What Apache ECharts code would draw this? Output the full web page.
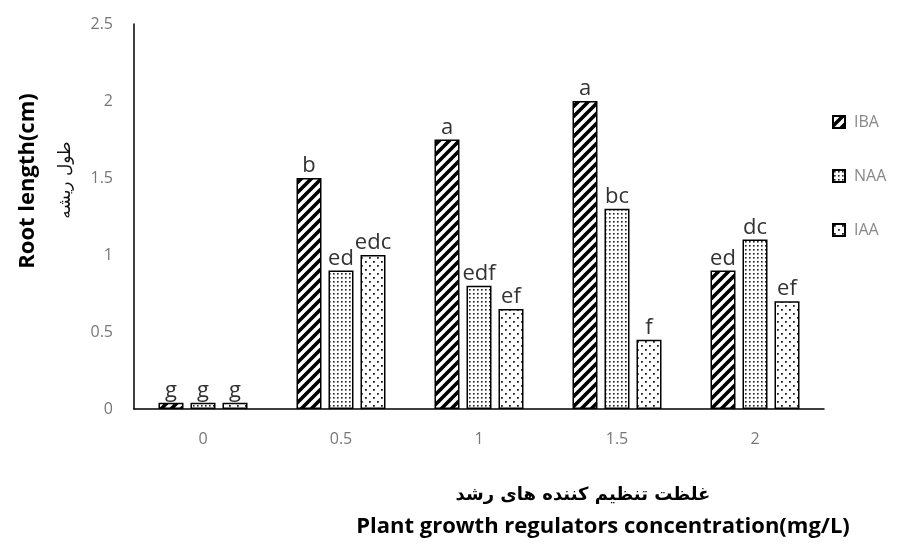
<!DOCTYPE html>
<html>
<head>
<meta charset="utf-8">
<script src="https://cdn.jsdelivr.net/npm/echarts@6/dist/echarts.min.js"></script>
<style>
  html, body { margin: 0; padding: 0; background: #fff; }
  #chart { width: 898px; height: 547px; }
</style>
</head>
<body>
<div id="chart"></div>
<script>
// Concentrations (mg/L)
const categories = ['0', '0.5', '1', '1.5', '2'];
// Mean root length (cm) per regulator
const ibaValues = [0.04, 1.5, 1.75, 2.0, 0.9];
const naaValues = [0.04, 0.9, 0.8, 1.3, 1.1];
const iaaValues = [0.04, 1.0, 0.65, 0.45, 0.7];
// Mean-separation letters
const ibaLetters = ['g', 'b', 'a', 'a', 'ed'];
const naaLetters = ['g', 'ed', 'edf', 'bc', 'dc'];
const iaaLetters = ['g', 'edc', 'ef', 'f', 'ef'];
const yTicks = [0, 0.5, 1, 1.5, 2, 2.5];

// Fill patterns
function stripePattern() {
  const s = 10;
  const c = document.createElement('canvas');
  c.width = s; c.height = s;
  const g = c.getContext('2d');
  g.fillStyle = '#fff'; g.fillRect(0, 0, s, s);
  g.strokeStyle = '#000'; g.lineWidth = 3.6;
  g.beginPath();
  g.moveTo(-2, s + 2); g.lineTo(s + 2, -2);
  g.moveTo(-2, 2); g.lineTo(2, -2);
  g.moveTo(s - 2, s + 2); g.lineTo(s + 2, s - 2);
  g.stroke();
  return c;
}
function densePattern() {
  const s = 4;
  const c = document.createElement('canvas');
  c.width = s; c.height = s;
  const g = c.getContext('2d');
  g.fillStyle = '#fff'; g.fillRect(0, 0, s, s);
  g.fillStyle = '#222';
  g.fillRect(1, 1, 1.6, 1.6);
  return c;
}
function sparsePattern() {
  const s = 8;
  const c = document.createElement('canvas');
  c.width = s; c.height = s;
  const g = c.getContext('2d');
  g.fillStyle = '#fff'; g.fillRect(0, 0, s, s);
  g.fillStyle = '#222';
  g.fillRect(1, 1, 1.8, 1.8);
  g.fillRect(5, 5, 1.8, 1.8);
  return c;
}

const chart = echarts.init(document.getElementById('chart'));

function barSeries(name, values, letters, pattern) {
  return {
    name: name,
    type: 'bar',
    barWidth: 25,
    barGap: '28%',
    data: values,
    itemStyle: {
      color: { image: pattern, repeat: 'repeat' },
      borderColor: '#000',
      borderWidth: 1.5
    },
    label: {
      show: true,
      position: 'top',
      distance: 1,
      formatter: p => letters[p.dataIndex],
      fontFamily: 'Open Sans, sans-serif',
      fontSize: 22,
      color: '#333'
    }
  };
}

chart.setOption({
  backgroundColor: '#fff',
  animation: false,
  grid: { left: 134, right: 74, top: 24, bottom: 138 },
  xAxis: {
    type: 'category',
    data: categories,
    axisLine: { lineStyle: { color: '#000', width: 1.5 } },
    axisTick: { show: false },
    axisLabel: {
      margin: 22,
      fontFamily: 'Open Sans, sans-serif',
      fontSize: 16,
      color: '#777'
    }
  },
  yAxis: {
    type: 'value',
    min: yTicks[0],
    max: yTicks[yTicks.length - 1],
    interval: 0.5,
    axisLine: { show: true, lineStyle: { color: '#000', width: 1.5 } },
    axisTick: { show: false },
    splitLine: { show: false },
    axisLabel: {
      margin: 21,
      fontFamily: 'Open Sans, sans-serif',
      fontSize: 16,
      color: '#777'
    }
  },
  legend: {
    orient: 'vertical',
    left: 827,
    top: 109,
    itemGap: 38,
    itemWidth: 12,
    itemHeight: 12,
    icon: 'rect',
    textStyle: {
      fontFamily: 'Open Sans, sans-serif',
      fontSize: 16,
      color: '#888',
      padding: [0, 0, 0, 4]
    },
    data: ['IBA', 'NAA', 'IAA']
  },
  graphic: [
    {
      type: 'text',
      rotation: Math.PI / 2,
      position: [28, 181],
      style: {
        text: 'Root length(cm)',
        fontFamily: 'Open Sans, sans-serif',
        fontWeight: 'bold',
        fontSize: 22,
        fill: '#000',
        align: 'center',
        verticalAlign: 'middle'
      }
    },
    {
      type: 'text',
      rotation: Math.PI / 2,
      position: [66, 180],
      style: {
        text: 'طول ریشه',
        fontFamily: 'DejaVu Sans, sans-serif',
        fontSize: 17,
        fill: '#111',
        align: 'center',
        verticalAlign: 'middle'
      }
    },
    {
      type: 'text',
      position: [583, 495],
      style: {
        text: 'غلظت تنظیم کننده های رشد',
        fontFamily: 'DejaVu Sans, sans-serif',
        fontWeight: 'bold',
        fontSize: 18,
        fill: '#000',
        align: 'center',
        verticalAlign: 'middle'
      }
    },
    {
      type: 'text',
      position: [603, 527],
      style: {
        text: 'Plant growth regulators concentration(mg/L)',
        fontFamily: 'Open Sans, sans-serif',
        fontWeight: 'bold',
        fontSize: 22,
        fill: '#000',
        align: 'center',
        verticalAlign: 'middle'
      }
    }
  ],
  series: [
    barSeries('IBA', ibaValues, ibaLetters, stripePattern()),
    barSeries('NAA', naaValues, naaLetters, densePattern()),
    barSeries('IAA', iaaValues, iaaLetters, sparsePattern())
  ]
});
</script>
</body>
</html>
